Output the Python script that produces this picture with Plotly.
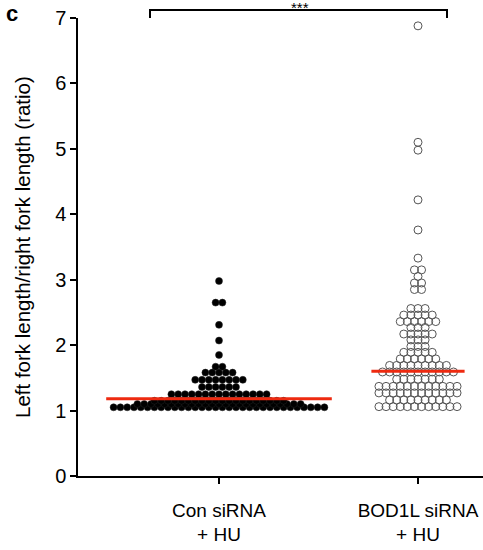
import plotly.graph_objects as go

# ---------------- data ----------------
categories = ["Con siRNA<br>+ HU", "BOD1L siRNA<br>+ HU"]

# Con siRNA + HU : ratio levels and how many forks sit at each level
con_levels = [1.05, 1.10, 1.15, 1.25, 1.36, 1.47, 1.58, 1.67, 1.85, 2.07, 2.31, 2.65, 2.98]
con_counts = [32, 25, 20, 15, 6, 8, 5, 2, 1, 1, 1, 2, 1]

# BOD1L siRNA + HU
bod_levels = [1.06, 1.16, 1.27, 1.37, 1.48, 1.59, 1.69, 1.79, 1.89, 1.98, 2.08, 2.17,
              2.27, 2.36, 2.46, 2.56, 2.85, 2.95, 3.05, 3.15, 3.33, 3.76, 4.22, 4.98,
              5.10, 6.88]
bod_counts = [12, 9, 12, 12, 7, 11, 9, 6, 5, 3, 3, 5,
              3, 6, 5, 3, 2, 2, 1, 2, 1, 1, 1, 1,
              1, 1]

# central (red) line values
center_values = [1.18, 1.60]

y_ticks = [0, 1, 2, 3, 4, 5, 6, 7]
y_title = "Left fork length/right fork length (ratio)"
panel_label = "c"
significance = "***"

# ---------------- layout constants ----------------
W, H = 483, 550
ML, MR, MT, MB = 78, 0, 18, 74
plot_w = W - ML - MR
plot_h = H - MT - MB
x_range = [-0.7085, 1.3266]
units_per_px = (x_range[1] - x_range[0]) / plot_w
FONT = "Liberation Sans, Arial, Helvetica, sans-serif"


def swarm(center, levels, counts, spacing_px):
    xs, ys = [], []
    dx = spacing_px * units_per_px
    for v, n in zip(levels, counts):
        for i in range(n):
            xs.append(center + (i - (n - 1) / 2) * dx)
            ys.append(v)
    return xs, ys


fig = go.Figure()

cx, cy = swarm(0, con_levels, con_counts, 6.8)
fig.add_trace(go.Scatter(
    x=cx, y=cy, mode="markers", showlegend=False, hoverinfo="y",
    marker=dict(symbol="circle", size=7, color="black",
                line=dict(width=0.5, color="#222"))))

bx, by = swarm(1, bod_levels, bod_counts, 7.1)
fig.add_trace(go.Scatter(
    x=bx, y=by, mode="markers", showlegend=False, hoverinfo="y",
    marker=dict(symbol="circle-open", size=8, color="#555",
                line=dict(width=1, color="#555"))))

# central lines: a little wider than the widest row
for idx, (counts, sp) in enumerate([(con_counts, 6.8), (bod_counts, 7.1)]):
    hw = (max(counts) * sp / 2 + 4) * units_per_px
    fig.add_trace(go.Scatter(
        x=[idx - hw, idx + hw], y=[center_values[idx], center_values[idx]],
        mode="lines", showlegend=False, hoverinfo="skip",
        line=dict(color="#ee2a10", width=3)))

fig.update_layout(
    width=W, height=H,
    margin=dict(l=ML, r=MR, t=MT, b=MB, autoexpand=False),
    paper_bgcolor="white", plot_bgcolor="white",
    font=dict(family=FONT, color="black", size=19),
    xaxis=dict(range=x_range, tickvals=[0, 1], ticktext=categories,
               showline=True, linecolor="black", linewidth=1.5,
               ticks="outside", ticklen=6, tickwidth=1.5, tickcolor="black",
               showgrid=False, zeroline=False, ticklabelstandoff=10,
               automargin=False,
               tickfont=dict(size=19, family=FONT)),
    yaxis=dict(range=[0, 7], tickvals=y_ticks,
               showline=True, linecolor="black", linewidth=1.5,
               ticks="outside", ticklen=6, tickwidth=1.5, tickcolor="black",
               showgrid=False, zeroline=False, automargin=False,
               tickfont=dict(size=20, family=FONT)),
)

def px_to_paper_x(px):
    return (px - ML) / plot_w

def px_to_paper_y(py):
    return (H - MB - py) / plot_h

# y-axis title
fig.add_annotation(text=y_title, xref="paper", yref="paper",
                   x=px_to_paper_x(22), y=px_to_paper_y(247),
                   xanchor="center", yanchor="middle", textangle=-90,
                   showarrow=False, font=dict(size=20.5, family=FONT))

# significance bracket
xl, xr = px_to_paper_x(150), px_to_paper_x(447)
yt, yb = px_to_paper_y(10), px_to_paper_y(18)
fig.add_shape(type="path", xref="paper", yref="paper",
              path=f"M {xl},{yb} L {xl},{yt} L {xr},{yt} L {xr},{yb}",
              line=dict(color="black", width=2))
fig.add_annotation(text=significance, xref="paper", yref="paper",
                   x=px_to_paper_x(300), y=px_to_paper_y(7),
                   xanchor="center", yanchor="middle", showarrow=False,
                   font=dict(size=15, family=FONT))
fig.add_annotation(text=f"<b>{panel_label}</b>", xref="paper", yref="paper",
                   x=px_to_paper_x(12), y=px_to_paper_y(13),
                   xanchor="center", yanchor="middle", showarrow=False,
                   font=dict(size=22, family=FONT))

fig.write_html("out.html", config={"displayModeBar": False},
               post_script="document.body.style.margin='0';document.body.style.overflow='hidden';")
